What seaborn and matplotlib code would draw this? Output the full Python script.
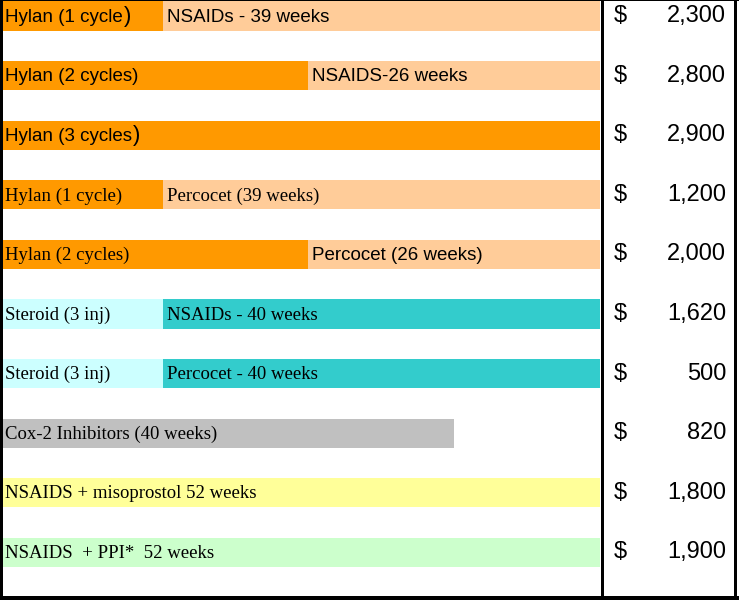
import numpy as np
import matplotlib.pyplot as plt
import matplotlib.transforms as mtransforms
from matplotlib.patches import Rectangle
import seaborn as sns
import pandas as pd

sns.set_style("white")

rows = ["r1", "r2", "r3", "r4", "r5", "r6", "r7", "r8", "r9", "r10"]
first_labels = ["Hylan (1 cycle)", "Hylan (2 cycles)", "Hylan (3 cycles)",
                "Hylan (1 cycle)", "Hylan (2 cycles)", "Steroid (3 inj)",
                "Steroid (3 inj)", "Cox-2 Inhibitors (40 weeks)",
                "NSAIDS + misoprostol 52 weeks", "NSAIDS  + PPI*  52 weeks"]
big_paren = [True, False, True, False, False, False, False, False, False, False]
second_labels = ["NSAIDs - 39 weeks", "NSAIDS-26 weeks", "",
                 "Percocet (39 weeks)", "Percocet (26 weeks)",
                 "NSAIDs - 40 weeks", "Percocet - 40 weeks", "", "", ""]
# bar lengths in weeks (full row = 52 weeks)
first_weeks = [13.9, 26.6, 52, 13.9, 26.6, 13.9, 13.9, 39.3, 52, 52]
total_weeks = [52, 52, 52, 52, 52, 52, 52, 39.3, 52, 52]
first_colors = ["#FF9900", "#FF9900", "#FF9900", "#FF9900", "#FF9900",
                "#CCFFFF", "#CCFFFF", "#C0C0C0", "#FFFF99", "#CCFFCC"]
second_colors = ["#FFCC99", "#FFCC99", "#FF9900", "#FFCC99", "#FFCC99",
                 "#33CCCC", "#33CCCC", "#C0C0C0", "#FFFF99", "#CCFFCC"]
first_fonts = ["Liberation Sans"] * 3 + ["Liberation Serif"] * 7
second_fonts = ["Liberation Sans", "Liberation Sans", "Liberation Sans",
                "Liberation Serif", "Liberation Sans", "Liberation Serif",
                "Liberation Serif", "Liberation Serif", "Liberation Serif",
                "Liberation Serif"]
costs = [2300, 2800, 2900, 1200, 2000, 1620, 500, 820, 1800, 1900]

df = pd.DataFrame({"row": rows, "first": first_weeks, "total": total_weeks})

fig = plt.figure(figsize=(7.39, 6.0), dpi=100)
ax = fig.add_axes([3 / 739, 0, 597 / 739, 1])

sns.barplot(data=df, x="total", y="row", hue="row", palette=second_colors,
            orient="h", width=0.49, dodge=False, legend=False, ax=ax,
            saturation=1, linewidth=0)
sns.barplot(data=df, x="first", y="row", hue="row", palette=first_colors,
            orient="h", width=0.49, dodge=False, legend=False, ax=ax,
            saturation=1, linewidth=0)

ax.set_xlim(0, 52)
ax.set_ylim(9.8, -0.27)
ax.axis("off")

for i in range(len(rows)):
    lab = first_labels[i]
    if big_paren[i]:
        t = ax.text(0.2, i + 0.02, lab[:-1], va="center", ha="left",
                    fontsize=13.5, family=first_fonts[i], color="black")
        ax.annotate(lab[-1], xy=(1, 0), xycoords=t, va="bottom", ha="left",
                    xytext=(0.5, -1), textcoords="offset points",
                    fontsize=16, family=first_fonts[i], color="black")
    else:
        ax.text(0.2, i + 0.02, lab, va="center", ha="left",
                fontsize=13.5, family=first_fonts[i], color="black")
    if second_labels[i]:
        ax.text(first_weeks[i] + 0.35, i + 0.02, second_labels[i], va="center",
                ha="left", fontsize=13.5, family=second_fonts[i], color="black")

# cost column on the right
tr = mtransforms.blended_transform_factory(fig.transFigure, ax.transData)
for i, c in enumerate(costs):
    fig.text(614 / 739, i, "$", transform=tr, va="center", ha="left",
             fontsize=17, family="Liberation Sans", color="black")
    fig.text(726 / 739, i, f"{c:,}", transform=tr, va="center", ha="right",
             fontsize=17, family="Liberation Sans", color="black")

# black frame lines
def px_rect(x0, y0, x1, y1):
    fig.add_artist(Rectangle((x0 / 739, 1 - y1 / 600), (x1 - x0) / 739,
                             (y1 - y0) / 600, transform=fig.transFigure,
                             color="black", lw=0))

px_rect(0, 0, 3, 600)
px_rect(0, 0, 739, 1)
px_rect(0, 596, 739, 600)
px_rect(600.5, 0, 603.5, 600)
px_rect(734, 0, 737, 600)

fig.savefig("out.png", dpi=100)
